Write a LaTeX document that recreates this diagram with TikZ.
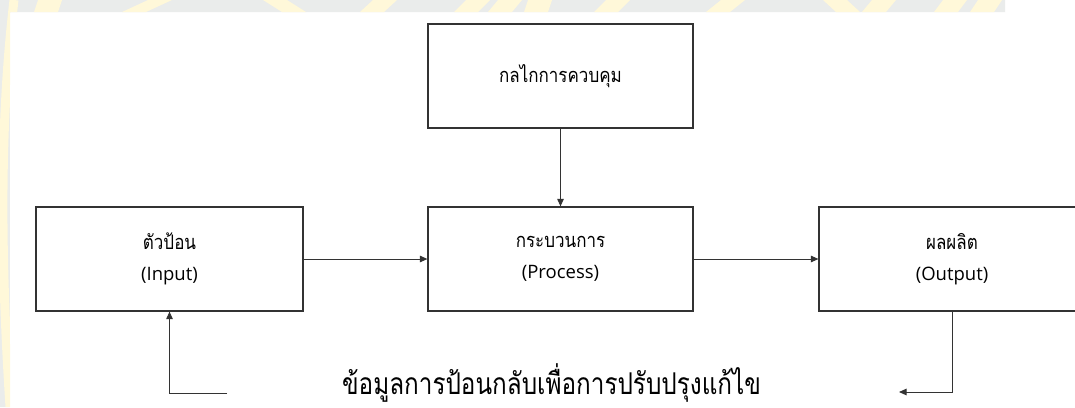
\documentclass[tikz,border=0pt]{standalone}
\usepackage{fontspec}
\setmainfont{Open Sans}
\newfontfamily\thaifont[Script=Thai]{Loma}
\usetikzlibrary{arrows.meta}
\definecolor{bandgray}{HTML}{EAECEB}
\definecolor{bandyellow}{HTML}{FFF8D9}
\definecolor{linegray}{HTML}{333333}
\newcommand{\thai}[1]{\scalebox{0.85}[1]{\thaifont\fontsize{20}{31}\selectfont #1}}
\tikzset{
  blockbox/.style={draw=linegray, line width=1.2pt, minimum width=265pt, minimum height=104pt, inner sep=0pt, align=center, font=\fontsize{18.5}{31}\selectfont},
  conn/.style={draw=linegray, line width=1pt, -{Triangle[length=7.5pt,width=6.5pt]}},
}
\begin{document}
\begin{tikzpicture}[x=1pt,y=-1pt]
\useasboundingbox (0,0) rectangle (1075,407);
\clip (0,0) rectangle (1075,407);
\fill[white] (0,0) rectangle (1075,407);
% background band and strip
\begin{scope}
  \clip (0,0) rectangle (1005,12) (0,0) rectangle (10,407);
  \fill[bandgray] (0,0) rectangle (1005,12) (0,0) rectangle (10,407);
  \foreach \a/\b in {50/46, 160/134, 275/294, 385/372, 478/466, 510/500, 540/536, 618/606, 733/718, 835/848, 884/874, 955/946, 990/982} {
    \fill[bandyellow] (\a-12,0) -- (\a+12,0) -- (\b+12,12) -- (\b-12,12) -- cycle;
  }
  \draw[bandyellow, line width=9pt] (14,0) .. controls (0,120) and (0,250) .. (10,407);
\end{scope}
% blocks
\node[blockbox] (ctrl) at (560.5,76) {\thai{กลไกการควบคุม}};
\node[blockbox] (proc) at (560.5,259) {\thai{กระบวนการ}\\(Process)};
\node[blockbox, minimum width=267pt] (inp) at (169.5,259) {\thai{ตัวป้อน}\\(Input)};
\node[blockbox, minimum width=266pt] (outp) at (952,259) {\thai{ผลผลิต}\\(Output)};
% feedback text
\node (fb) at (551.5,383) {\scalebox{0.81}[1]{\thaifont\fontsize{30}{33}\selectfont ข้อมูลการป้อนกลับเพื่อการปรับปรุงแก้ไข}};
% connectors
\draw[conn] (ctrl.south) -- (proc.north);
\draw[conn] (inp.east) -- (proc.west);
\draw[conn] (proc.east) -- (outp.west);
\coordinate (fbR) at (899,392);
\coordinate (fbL) at (227,393);
\draw[conn] (outp.south) |- (fbR);
\draw[conn] (fbL) -| (inp.south);
\end{tikzpicture}
\end{document}
